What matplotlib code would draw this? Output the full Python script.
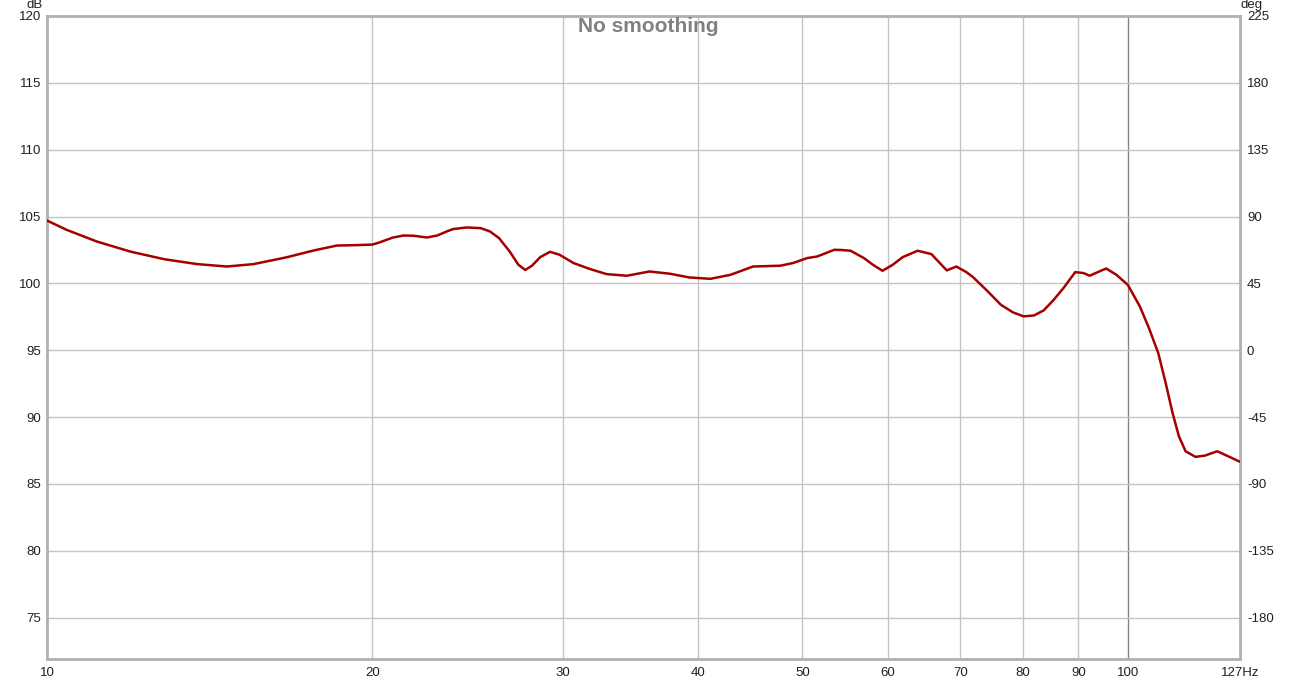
import matplotlib
matplotlib.use("Agg")
import matplotlib.pyplot as plt
from matplotlib.ticker import FixedLocator, NullLocator

plt.rcParams['font.family'] = ['Liberation Sans', 'DejaVu Sans']

freq_hz = [10.0, 10.43, 11.12, 11.94, 12.83, 13.77, 14.67, 15.53, 16.68, 17.65, 18.55,
           19.35, 20.0, 20.3, 20.9, 21.38, 21.85, 22.46, 22.97, 23.43, 23.75, 24.45,
           25.2, 25.7, 26.2, 26.8, 27.3, 27.7, 28.1, 28.6, 29.2, 29.8, 30.7, 31.8,
           32.95, 34.4, 36.1, 37.7, 39.3, 41.1, 42.9, 45.0, 47.7, 49.0, 50.5, 51.6,
           53.5, 54.2, 55.4, 57.0, 58.1, 59.3, 60.6, 61.9, 63.9, 65.8, 67.0, 68.0,
           69.4, 70.9, 71.9, 74.1, 76.3, 78.3, 80.1, 81.9, 83.6, 85.4, 87.2,
           89.4, 91.0, 92.2, 94.1, 95.5, 97.6, 100.0, 102.6, 104.6, 106.7, 108.4,
           110.0, 111.5, 113.1, 115.5, 117.9, 121.0, 123.8, 127.0]
spl_db = [104.70, 104.0, 103.13, 102.38, 101.81, 101.44, 101.26, 101.44, 101.96, 102.46, 102.83,
          102.86, 102.90, 103.06, 103.43, 103.58, 103.56, 103.43, 103.58, 103.88, 104.06, 104.18,
          104.13, 103.88, 103.38, 102.38, 101.39, 101.0, 101.32, 101.96, 102.36, 102.14, 101.52, 101.07,
          100.69, 100.57, 100.89, 100.72, 100.44, 100.34, 100.64, 101.26, 101.32, 101.52, 101.89, 102.01,
          102.51, 102.5, 102.44, 101.89, 101.39, 100.94, 101.39, 101.96, 102.44, 102.19, 101.52, 100.97,
          101.26, 100.84, 100.47, 99.45, 98.40, 97.83, 97.53, 97.6, 97.98, 98.77, 99.65,
          100.84, 100.77, 100.57, 100.89, 101.11, 100.64, 99.89, 98.27, 96.66, 94.79, 92.55,
          90.31, 88.56, 87.44, 87.02, 87.12, 87.44, 87.07, 86.65]

x_ticks = [10, 20, 30, 40, 50, 60, 70, 80, 90, 100, 127]
x_tick_labels = ["10", "20", "30", "40", "50", "60", "70", "80", "90", "100", "127Hz"]
db_ticks = [75, 80, 85, 90, 95, 100, 105, 110, 115, 120]
deg_ticks = [-180, -135, -90, -45, 0, 45, 90, 135, 180, 225]

W, H = 1298, 680
fig = plt.figure(figsize=(W / 100, H / 100), dpi=100)
L, R, T, B = 47, 1240, 16, 659
ax = fig.add_axes([L / W, 1 - B / H, (R - L) / W, (B - T) / H])

ax.set_xscale('log')
ax.set_xlim(10, 127)
ylo, yhi = 71.9, 120
ax.set_ylim(ylo, yhi)

ax.xaxis.set_major_locator(FixedLocator(x_ticks))
ax.xaxis.set_minor_locator(NullLocator())
ax.set_xticklabels(x_tick_labels)
ax.set_yticks(db_ticks)
ax.set_yticklabels([str(v) for v in db_ticks])

for f in x_ticks[1:-1]:
    ax.axvline(f, color='#808080' if f == 100 else '#c4c4c4', lw=1, zorder=1)
for v in db_ticks[:-1]:
    ax.axhline(v, color='#c4c4c4', lw=1, zorder=1)

ax.plot(freq_hz, spl_db, color='#a50000', lw=1.8, zorder=3,
        solid_joinstyle='round', solid_capstyle='round', antialiased=True)

ax.tick_params(axis='both', length=0, labelsize=9.5, colors='#202020', pad=4)
ax.tick_params(axis='x', pad=6)
for s in ax.spines.values():
    s.set_color('#b0b0b0')
    s.set_linewidth(2)

ax2 = ax.twinx()
ax2.set_ylim((ylo - 95) * 9, (yhi - 95) * 9)
ax2.set_yticks(deg_ticks)
ax2.set_yticklabels([str(v) for v in deg_ticks])
ax2.tick_params(axis='y', length=0, labelsize=9.5, colors='#202020', pad=5)
for s in ax2.spines.values():
    s.set_visible(False)

fig.text(35 / W, 1 - 5 / H, "dB", fontsize=9.5, color='#202020', ha='center', va='center')
fig.text(1252 / W, 1 - 5 / H, "deg", fontsize=9.5, color='#202020', ha='center', va='center')
fig.text(648 / W, 1 - 27 / H, "No smoothing", fontsize=15, fontweight='bold',
         color='#808080', ha='center', va='center')

fig.savefig("out.png", dpi=100)
